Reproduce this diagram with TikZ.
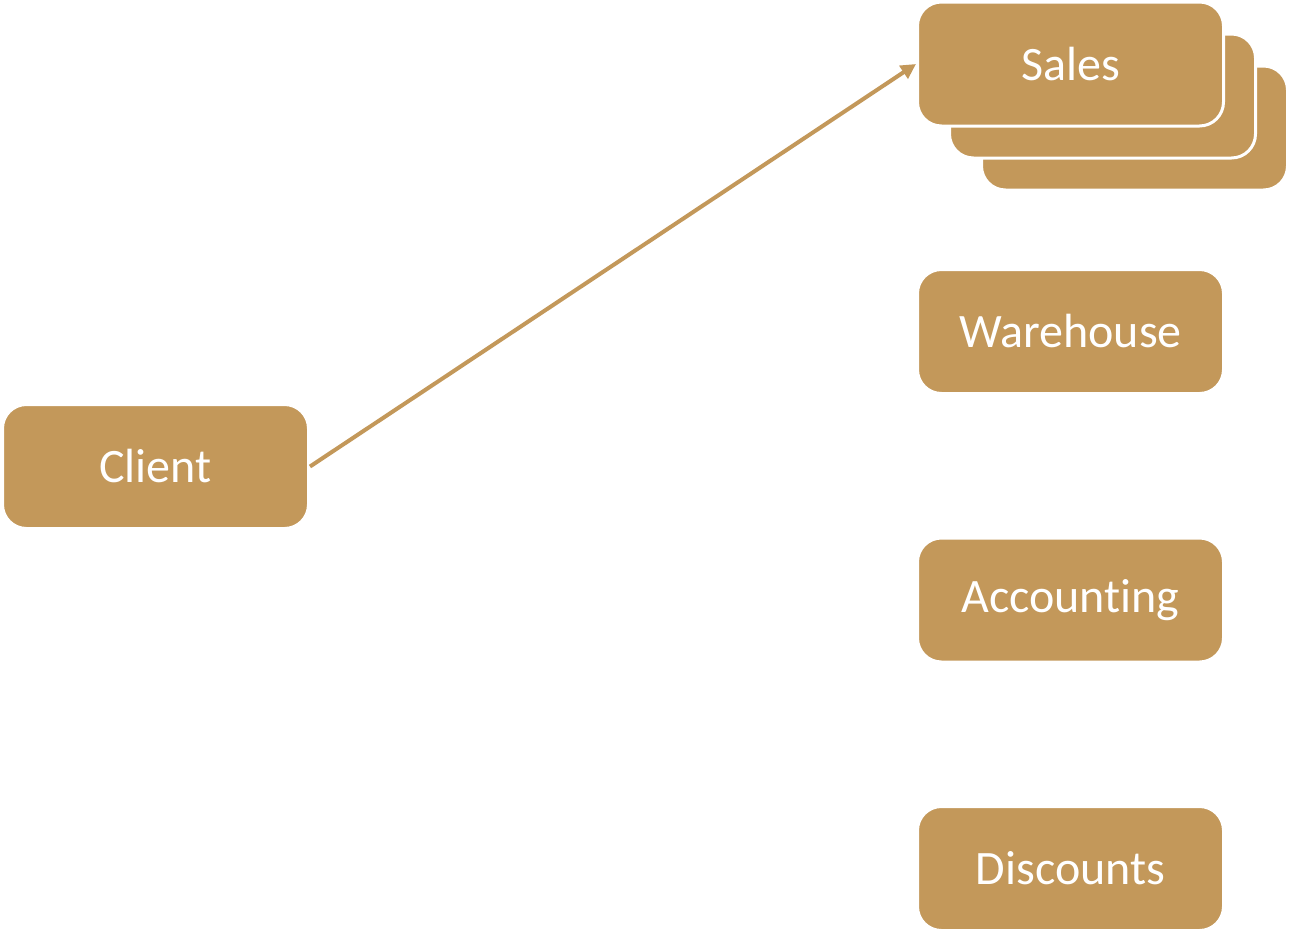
\documentclass[tikz,border=0pt]{standalone}
\usepackage{fontspec}
\setmainfont{Carlito}[Ligatures=NoCommon]
\usepackage{tikz}
\usetikzlibrary{arrows.meta}
\definecolor{gold}{HTML}{C3985A}

\begin{document}
\begin{tikzpicture}
                [x=1pt, y=-1pt,
                    box/.style={draw=white, line width=3pt, fill=gold, rounded corners=24pt,
                        minimum width=306pt, minimum height=124pt, text=white,
                        font=\fontsize{48}{58}\selectfont},
                    link/.style={draw=gold, line width=4pt, -{Triangle[length=15pt,width=15pt]}},
                ]
                \useasboundingbox (0,0) rectangle (1294,930);
                % the stacked sales boxes, back to front
                \node[box] (sales3) at (1134.5,128) {};
                \node[box] (sales2) at (1102.5,96) {};
                \node[box] (sales) at (1070.5,64) {Sales};
                \node[box] (warehouse) at (1070.5,331.5) {Warehouse};
                \node[box] (accounting) at (1070.5,600) {Accounting};
                \node[box] (discounts) at (1070.5,868.5) {Discounts};
                \node[box] (client) at (155.5,466.5) {Client};
                \draw[link] (client.east) -- (sales.west);
            \end{tikzpicture}
\end{document}
